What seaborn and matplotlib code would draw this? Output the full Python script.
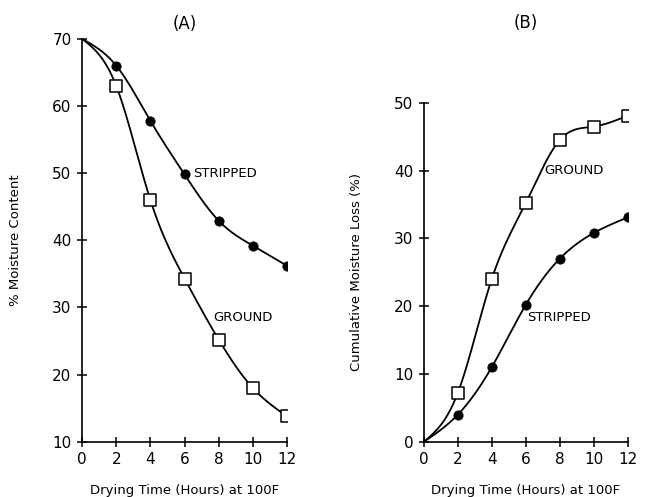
import numpy as np
import pandas as pd
import matplotlib
matplotlib.use("Agg")
import matplotlib.pyplot as plt
import seaborn as sns

# values
hours = [0, 2, 4, 6, 8, 10, 12]
a_stripped = [70, 66.0, 57.8, 49.8, 42.9, 39.2, 36.2]
a_ground = [70, 63.0, 46.0, 34.3, 25.2, 18.0, 13.8]
b_ground = [0, 7.2, 24.0, 35.2, 44.5, 46.5, 48.1]
b_stripped = [0, 4.0, 11.0, 20.2, 27.0, 30.8, 33.1]
x_ticks = [0, 2, 4, 6, 8, 10, 12]
x_ticklabels = ["0", "2", "4", "6", "8", "10", "12"]


def smooth(x, y, n=300):
    """natural cubic spline through the measured points (drawing only)"""
    x = np.asarray(x, float)
    y = np.asarray(y, float)
    npts = len(x)
    h = np.diff(x)
    A = np.zeros((npts, npts))
    r = np.zeros(npts)
    A[0, 0] = A[-1, -1] = 1
    for i in range(1, npts - 1):
        A[i, i - 1] = h[i - 1]
        A[i, i] = 2 * (h[i - 1] + h[i])
        A[i, i + 1] = h[i]
        r[i] = 6 * ((y[i + 1] - y[i]) / h[i] - (y[i] - y[i - 1]) / h[i - 1])
    M = np.linalg.solve(A, r)
    xs = np.linspace(x[0], x[-1], n)
    k = np.clip(np.searchsorted(x, xs) - 1, 0, npts - 2)
    a = x[k + 1] - xs
    b = xs - x[k]
    hk = h[k]
    ys = (M[k] * a**3 / (6 * hk) + M[k + 1] * b**3 / (6 * hk)
          + (y[k] / hk - M[k] * hk / 6) * a + (y[k + 1] / hk - M[k + 1] * hk / 6) * b)
    return xs, ys


sns.set_style("ticks")
plt.rcParams["font.family"] = ["DejaVu Sans"]
plt.rcParams["text.color"] = "black"
plt.rcParams["axes.labelcolor"] = "black"
plt.rcParams["xtick.color"] = "black"
plt.rcParams["ytick.color"] = "black"
plt.rcParams["axes.edgecolor"] = "black"

fig = plt.figure(figsize=(6.51, 4.97), dpi=100)
ax_a = fig.add_axes([0.126, 0.111, 0.315, 0.811])
ax_b = fig.add_axes([0.651, 0.111, 0.313, 0.682])


def draw(ax, ys_circle, ys_square):
    for ys in (ys_circle, ys_square):
        xs, yy = smooth(hours, ys)
        sns.lineplot(x=xs, y=yy, ax=ax, color="black", lw=1.3, sort=False)
    sns.scatterplot(x=hours[1:], y=ys_circle[1:], ax=ax, marker="o", s=45,
                    color="black", edgecolor="black", zorder=3)
    sns.scatterplot(x=hours[1:], y=ys_square[1:], ax=ax, marker="s", s=65,
                    facecolor="white", edgecolor="black", linewidth=1.1, zorder=3)
    sns.despine(ax=ax)
    ax.set_xlim(0, 12)
    ax.set_xticks(x_ticks)
    ax.set_xticklabels(x_ticklabels)
    ax.tick_params(direction="inout", length=7, width=1.1, labelsize=11, pad=4)
    for s in ("left", "bottom"):
        ax.spines[s].set_linewidth(1.2)
    ax.set_xlabel("Drying Time (Hours) at 100F", fontsize=9.5, labelpad=12)


# panel A
draw(ax_a, a_stripped, a_ground)
ax_a.set_ylim(10, 70)
ax_a.set_yticks([10, 20, 30, 40, 50, 60, 70])
ax_a.set_ylabel("% Moisture Content", fontsize=9.5, labelpad=22)
ax_a.set_title("(A)", fontsize=12, pad=7)
ax_a.text(6.5, 50.0, "STRIPPED", fontsize=9.5, va="center")
ax_a.text(7.65, 28.5, "GROUND", fontsize=9.5, va="center")

# panel B
draw(ax_b, b_stripped, b_ground)
ax_b.set_ylim(0, 50)
ax_b.set_yticks([0, 10, 20, 30, 40, 50])
ax_b.set_ylabel("Cumulative Moisture Loss (%)", fontsize=9.5, labelpad=22)
ax_b.set_title("(B)", fontsize=12, pad=54)
ax_b.text(7.1, 40.0, "GROUND", fontsize=9.5, va="center")
ax_b.text(6.1, 18.4, "STRIPPED", fontsize=9.5, va="center")

fig.savefig("out.png", dpi=100)
